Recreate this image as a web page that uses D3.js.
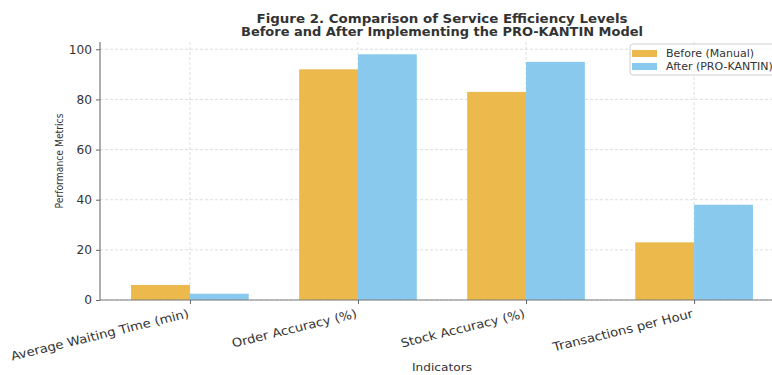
<!DOCTYPE html>
<html>
<head>
<meta charset="utf-8">
<script src="https://cdn.jsdelivr.net/npm/d3@7"></script>
<style>
  body { margin: 0; background: #fff; }
  svg { font-family: "DejaVu Sans", sans-serif; }
</style>
</head>
<body>
<div id="chart"></div>
<script>
const categories = ['Average Waiting Time (min)', 'Order Accuracy (%)', 'Stock Accuracy (%)', 'Transactions per Hour']
const seriesNames = ['Before (Manual)', 'After (PRO-KANTIN)']
const beforeValues = [6, 92, 83, 23]
const afterValues = [2.5, 98, 95, 38]
const yTicks = [0, 20, 40, 60, 80, 100]
const colors = ['#ebb94c', '#89c9ee']

const width = 772
const height = 375
const margin = { top: 42, left: 100, bottom: 75 }
const plotRight = 784
// the source picture is a little stretched sideways, text included
const stretch = 1.1

const svg = d3.select('#chart')
  .append('svg')
  .attr('width', width)
  .attr('height', height)

// x in category units, matplotlib style margins
const x = d3.scaleLinear().domain([-0.535, 3.535]).range([margin.left, plotRight])
const y = d3.scaleLinear().domain([0, 102.9]).range([height - margin.bottom, margin.top])
const barW = 0.35

// grid
const grid = svg.append('g')
grid.selectAll('.gy')
  .data(yTicks)
  .enter()
  .append('line')
  .attr('x1', margin.left).attr('x2', plotRight)
  .attr('y1', d => y(d)).attr('y2', d => y(d))
  .attr('stroke', '#d6d6d6').attr('stroke-dasharray', '3,2').attr('stroke-width', 0.8)
grid.selectAll('.gx')
  .data(categories)
  .enter()
  .append('line')
  .attr('x1', (d, i) => x(i)).attr('x2', (d, i) => x(i))
  .attr('y1', margin.top).attr('y2', y(0))
  .attr('stroke', '#d6d6d6').attr('stroke-dasharray', '3,2').attr('stroke-width', 0.8)

// bars
const series = [beforeValues, afterValues]
series.forEach((vals, s) => {
  svg.append('g')
    .selectAll('rect')
    .data(vals)
    .enter()
    .append('rect')
    .attr('x', (d, i) => x(i + (s === 0 ? -barW : 0)))
    .attr('width', x(barW) - x(0))
    .attr('y', d => y(d))
    .attr('height', d => y(0) - y(d))
    .attr('fill', colors[s])
})

// axes
const yAxis = svg.append('g')
  .attr('transform', `translate(${margin.left},0)`)
  .call(d3.axisLeft(y).tickValues(yTicks).tickSize(4).tickPadding(4))
yAxis.select('.domain').attr('d', `M0,${margin.top}V${y(0)}`)

const xAxis = svg.append('g')
  .attr('transform', `translate(0,${y(0)})`)
  .call(d3.axisBottom(x).tickValues(d3.range(categories.length)).tickSize(4).tickFormat(''))
xAxis.select('.domain').attr('d', `M${margin.left},0H${plotRight}`)

svg.selectAll('.domain').attr('stroke', '#7a7a7a').attr('stroke-width', 1.2)
svg.selectAll('.tick line').attr('stroke', '#555').attr('stroke-width', 0.9)
yAxis.selectAll('.tick text')
  .attr('font-size', 12.2).attr('fill', '#333').attr('font-family', 'DejaVu Sans')

// rotated category labels
svg.append('g')
  .selectAll('text')
  .data(categories)
  .enter()
  .append('text')
  .attr('transform', (d, i) => `translate(${x(i) - 3},${y(0) + 8}) scale(${stretch},1) rotate(-15)`)
  .attr('text-anchor', 'end')
  .attr('dy', '0.8em')
  .attr('font-size', 12)
  .attr('fill', '#333')
  .text(d => d)

// axis titles
svg.append('text')
  .attr('x', (margin.left + plotRight) / 2)
  .attr('y', 371)
  .attr('text-anchor', 'middle')
  .attr('font-size', 11)
  .attr('textLength', 60)
  .attr('lengthAdjust', 'spacingAndGlyphs')
  .attr('fill', '#333')
  .text('Indicators')

svg.append('text')
  .attr('transform', 'translate(63,161) rotate(-90)')
  .attr('text-anchor', 'middle')
  .attr('font-size', 10)
  .attr('textLength', 95)
  .attr('lengthAdjust', 'spacingAndGlyphs')
  .attr('fill', '#333')
  .text('Performance Metrics')

// title, one text per line so the stretch applies to the glyphs
const titleLines = [
  { text: 'Figure 2. Comparison of Service Efficiency Levels', y: 23, len: 371 },
  { text: 'Before and After Implementing the PRO-KANTIN Model', y: 36, len: 402 }
]
svg.append('g')
  .selectAll('text')
  .data(titleLines)
  .enter()
  .append('text')
  .attr('x', (margin.left + plotRight) / 2)
  .attr('y', d => d.y)
  .attr('text-anchor', 'middle')
  .attr('font-weight', 'bold')
  .attr('font-size', 12)
  .attr('textLength', d => d.len)
  .attr('lengthAdjust', 'spacingAndGlyphs')
  .attr('fill', '#333')
  .text(d => d.text)

// legend (cut by the right edge, as in the source)
const legend = svg.append('g').attr('transform', 'translate(630,44)')
legend.append('rect')
  .attr('width', 160).attr('height', 31).attr('rx', 3)
  .attr('fill', 'rgba(255,255,255,0.8)').attr('stroke', '#d0d0d0')
seriesNames.forEach((name, i) => {
  legend.append('rect')
    .attr('x', 2).attr('y', 6 + i * 13).attr('width', 25).attr('height', 7)
    .attr('fill', colors[i])
  legend.append('text')
    .attr('x', 36).attr('y', 13 + i * 13)
    .attr('font-size', 11).attr('fill', '#333')
    .text(name)
})
</script>
</body>
</html>
